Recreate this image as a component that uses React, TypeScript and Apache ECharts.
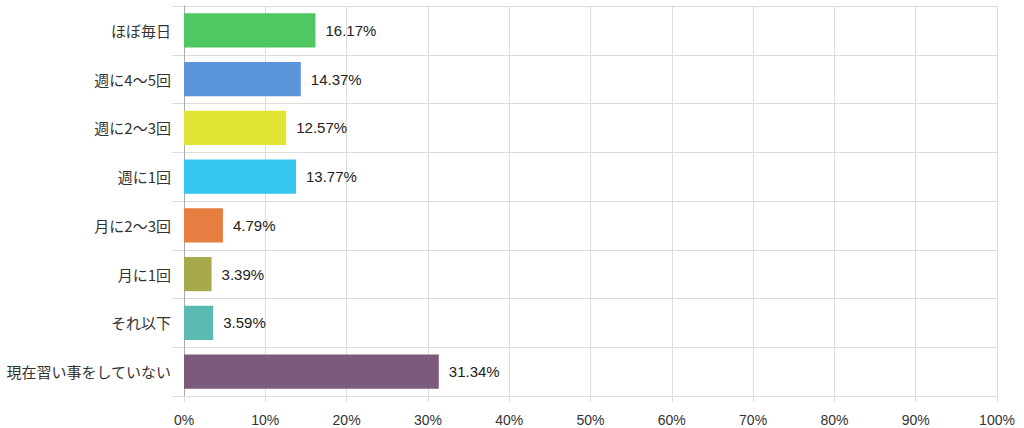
import React, { useEffect, useRef } from "react";
import * as echarts from "echarts";

const categories = [
  "ほぼ毎日",
  "週に4～5回",
  "週に2～3回",
  "週に1回",
  "月に2～3回",
  "月に1回",
  "それ以下",
  "現在習い事をしていない",
];
const values = [16.17, 14.37, 12.57, 13.77, 4.79, 3.39, 3.59, 31.34];
const colors = [
  "#4fc864",
  "#5b95db",
  "#e0e535",
  "#35c5f0",
  "#e67e42",
  "#a8a94a",
  "#5bbab2",
  "#7c5a7b",
];

const JP_FONT = "'Noto Sans CJK JP', sans-serif";
const NUM_FONT = "'Liberation Sans', Arial, 'Noto Sans CJK JP', sans-serif";

export default function App() {
  const ref = useRef<HTMLDivElement>(null);
  useEffect(() => {
    document.body.style.margin = "0";
    const chart = echarts.init(ref.current!, null, { renderer: "svg" });
    chart.setOption({
      animation: false,
      textStyle: { fontFamily: JP_FONT },
      grid: { left: 184, right: 27, top: 6, bottom: 32 },
      xAxis: {
        type: "value",
        min: 0,
        max: 100,
        interval: 10,
        axisLine: { show: false },
        axisTick: { show: true, length: 6, lineStyle: { color: "#dcdcdc" } },
        splitLine: { show: true, lineStyle: { color: "#dcdcdc" } },
        axisLabel: { formatter: "{value}%", fontSize: 14, color: "#333", margin: 17, fontFamily: NUM_FONT },
      },
      yAxis: {
        type: "category",
        inverse: true,
        data: categories,
        axisLine: { show: true, lineStyle: { color: "#aaaaaa" } },
        axisTick: { show: true, length: 12, interval: 0, lineStyle: { color: "#dcdcdc" } },
        splitLine: { show: true, interval: 0, lineStyle: { color: "#dcdcdc" } },
        axisLabel: { fontSize: 15, color: "#333", margin: 13, interval: 0, fontFamily: JP_FONT },
      },
      series: [
        {
          type: "bar",
          barCategoryGap: "30%",
          data: values.map((v, i) => ({ value: v, itemStyle: { color: colors[i] } })),
          label: {
            show: true,
            position: "right",
            distance: 10,
            fontSize: 15,
            color: "#222",
            fontFamily: NUM_FONT,
            formatter: (p: any) => p.value.toFixed(2) + "%",
          },
        },
      ],
    });
    return () => chart.dispose();
  }, []);
  return <div ref={ref} style={{ width: 1024, height: 428 }} />;
}
